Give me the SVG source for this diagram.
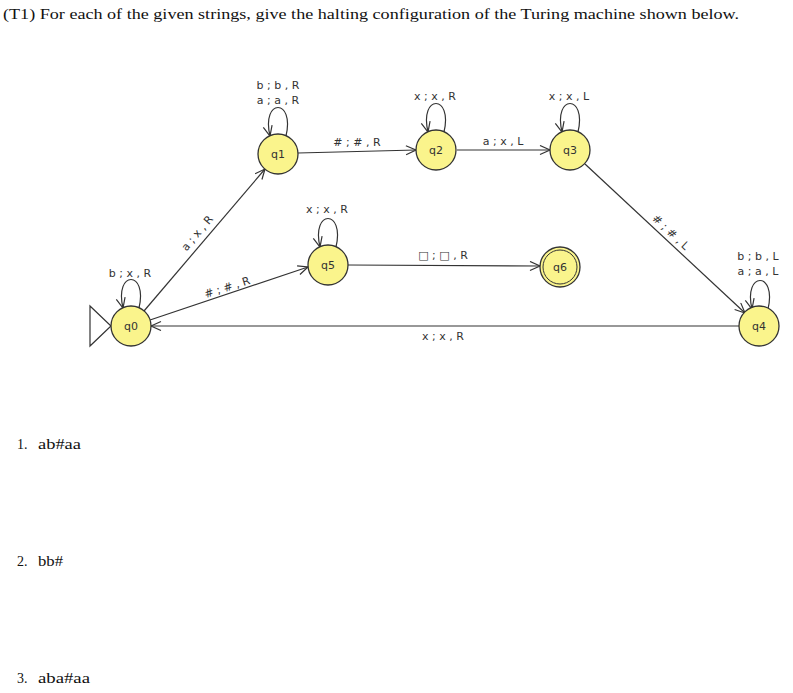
<svg xmlns="http://www.w3.org/2000/svg" width="793" height="693" viewBox="0 0 793 693">
<style>
.node{fill:#faf48c;stroke:#333;stroke-width:1.3}
.edge{fill:none;stroke:#333;stroke-width:1.2}
.lbl{font-family:"DejaVu Sans",sans-serif;font-size:11px;fill:#333;text-anchor:middle}
.nl{font-family:"DejaVu Sans",sans-serif;font-size:11px;fill:#333;text-anchor:middle}
.doc{font-family:"Liberation Serif",serif;font-size:14px;fill:#111}
</style>
<defs>
<marker id="arr" markerUnits="userSpaceOnUse" markerWidth="14" markerHeight="12" refX="11" refY="5" orient="auto">
<path d="M1,0.5 L11,5 L1,9.5" fill="none" stroke="#333" stroke-width="1.2"/>
</marker>
</defs>
<rect width="793" height="693" fill="#fff"/>
<text class="doc" x="3" y="19" font-size="15" textLength="736" lengthAdjust="spacingAndGlyphs">(T1) For each of the given strings, give the halting configuration of the Turing machine shown below.</text>

<g id="connectors">
<path class="edge" d="M90,306 L111,326 L90,346 Z"/>
<path class="edge" marker-end="url(#arr)" d="M144,311 L265,169"/>
<path class="edge" marker-end="url(#arr)" d="M298,153 L416,150"/>
<path class="edge" marker-end="url(#arr)" d="M457,150 L550,150"/>
<path class="edge" marker-end="url(#arr)" d="M585,164 L745,313"/>
<path class="edge" marker-end="url(#arr)" d="M150,320 L308,267"/>
<path class="edge" marker-end="url(#arr)" d="M348,265 L540,266"/>
<path class="edge" marker-end="url(#arr)" d="M739,326 L151,326"/>
<path class="edge" marker-end="url(#arr)" d="M139,308 C148,270 114,270 123,308"/>
<path class="edge" marker-end="url(#arr)" d="M286,136 C295,98 261,98 270,136"/>
<path class="edge" marker-end="url(#arr)" d="M444,132 C453,94 419,94 428,132"/>
<path class="edge" marker-end="url(#arr)" d="M578,132 C587,94 553,94 562,132"/>
<path class="edge" marker-end="url(#arr)" d="M336,247 C345,209 311,209 320,247"/>
<path class="edge" marker-end="url(#arr)" d="M768,309 C777,271 743,271 752,309"/>
<text class="lbl" x="278" y="89">b ; b , R</text>
<text class="lbl" x="278" y="104">a ; a , R</text>
<text class="lbl" x="435" y="100">x ; x , R</text>
<text class="lbl" x="569" y="100">x ; x , L</text>
<text class="lbl" x="357" y="146"># ; # , R</text>
<text class="lbl" x="503" y="145">a ; x , L</text>
<text class="lbl" x="130" y="277">b ; x , R</text>
<text class="lbl" x="327" y="213">x ; x , R</text>
<text class="lbl" x="443" y="259">□ ; □ , R</text>
<text class="lbl" x="443" y="340">x ; x , R</text>
<text class="lbl" x="758" y="260">b ; b , L</text>
<text class="lbl" x="758" y="275">a ; a , L</text>
<text class="lbl" x="197" y="237" transform="rotate(-50 197 233)">a ; x , R</text>
<text class="lbl" x="227" y="291" transform="rotate(-17.5 227 287)"># ; # , R</text>
<text class="lbl" x="671" y="236" transform="rotate(43 671 232)"># ; # , L</text>
</g>

<g id="q0"><circle class="node" cx="131" cy="326" r="20"/><text class="nl" x="131" y="330">q0</text></g>
<g id="q1"><circle class="node" cx="278" cy="154" r="20"/><text class="nl" x="278" y="158">q1</text></g>
<g id="q2"><circle class="node" cx="436" cy="150" r="20"/><text class="nl" x="436" y="154">q2</text></g>
<g id="q3"><circle class="node" cx="570" cy="150" r="20"/><text class="nl" x="570" y="154">q3</text></g>
<g id="q4"><circle class="node" cx="759" cy="326" r="20"/><text class="nl" x="759" y="330">q4</text></g>
<g id="q5"><circle class="node" cx="328" cy="265" r="20"/><text class="nl" x="328" y="269">q5</text></g>
<g id="q6"><circle class="node" cx="560" cy="267" r="20"/><circle cx="560" cy="267" r="17" fill="none" stroke="#333" stroke-width="1"/><text class="nl" x="560" y="271">q6</text></g>

<g id="questions">
<text class="doc" x="17" y="449">1.</text>
<text class="doc" x="38" y="449" textLength="43" lengthAdjust="spacingAndGlyphs">ab#aa</text>
<text class="doc" x="17" y="566">2.</text>
<text class="doc" x="38" y="566" textLength="25" lengthAdjust="spacingAndGlyphs">bb#</text>
<text class="doc" x="17" y="683">3.</text>
<text class="doc" x="38" y="683" textLength="52" lengthAdjust="spacingAndGlyphs">aba#aa</text>
</g>
</svg>
